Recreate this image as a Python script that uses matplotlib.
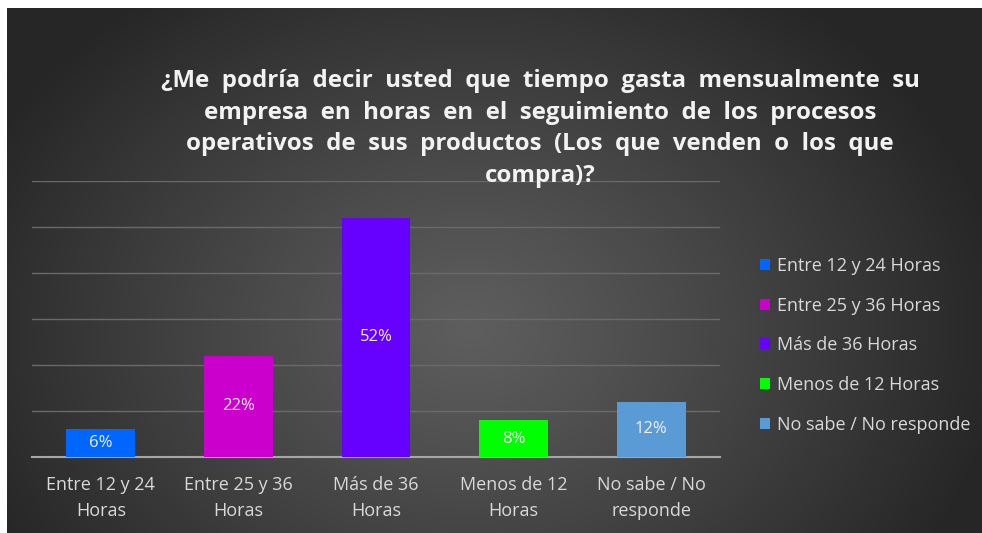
import numpy as np
import matplotlib
matplotlib.use("Agg")
import matplotlib.pyplot as plt

# datos
categorias = ["Entre 12 y 24\nHoras", "Entre 25 y 36\nHoras", "Más de 36\nHoras",
              "Menos de 12\nHoras", "No sabe / No\nresponde"]
leyenda = ["Entre 12 y 24 Horas", "Entre 25 y 36 Horas", "Más de 36 Horas",
           "Menos de 12 Horas", "No sabe / No responde"]
porcentajes = [6, 22, 52, 8, 12]
colores = ["#0066ff", "#cc00cc", "#6600ff", "#00ff00", "#5b9bd5"]

titulo = ("¿Me  podría  decir  usted  que  tiempo  gasta  mensualmente  su\n"
          "empresa  en  horas  en  el  seguimiento  de  los  procesos\n"
          "operativos  de  sus  productos  (Los  que  venden  o  los  que\n"
          "compra)?")

W, H = 982, 533
fig = plt.figure(figsize=(W / 100, H / 100), dpi=100, facecolor="white")

# fondo con degradado radial
bg = fig.add_axes([7 / W, 0, (W - 7) / W, (H - 8) / H], zorder=0)
nx, ny = 400, 220
xx, yy = np.meshgrid(np.linspace(7, W, nx), np.linspace(8, H, ny))
r = np.sqrt(((xx - 470) / 540) ** 2 + ((yy - 330) / 420) ** 2)
r = np.clip(r, 0, 1)
claro, oscuro = 0x5e / 255, 0x26 / 255
val = claro + (oscuro - claro) * r ** 1.1
img = np.dstack([val, val, val])
bg.imshow(img, aspect="auto", extent=[0, 1, 0, 1], origin="upper")
bg.axis("off")

# ejes del grafico
ax = fig.add_axes([32 / W, (H - 457) / H, (720 - 32) / W, (457 - 181) / H], zorder=1)
ax.set_facecolor("none")
x = np.arange(len(categorias))
barras = ax.bar(x, porcentajes, width=0.5, color=colores, zorder=3, label=leyenda)
ax.set_xlim(-0.5, len(categorias) - 0.5)
ax.set_ylim(0, 60)
ax.set_yticks(np.arange(0, 61, 10))
ax.yaxis.grid(True, color="#6a6a6a", linewidth=1.0)
ax.set_axisbelow(True)
ax.tick_params(axis="y", left=False, labelleft=False)
ax.tick_params(axis="x", length=0, pad=14, labelsize=13, labelcolor="#d9d9d9")
ax.set_xticks(x)
ax.set_xticklabels(categorias, fontfamily="Open Sans", linespacing=1.55)
for s in ["top", "right", "left"]:
    ax.spines[s].set_visible(False)
ax.spines["bottom"].set_color("#a6a6a6")
ax.spines["bottom"].set_linewidth(1.5)

for b, v in zip(barras, porcentajes):
    ax.text(b.get_x() + b.get_width() / 2, v / 2, f"{v}%", ha="center", va="center",
            color="#f2f2f2", fontsize=12, fontfamily="Open Sans", zorder=4)

fig.text(540 / W, 1 - 69 / H, titulo, ha="center", va="top", color="#f2f2f2",
         fontsize=17.3, fontweight="bold", fontfamily="Open Sans", linespacing=1.43)

leg = ax.legend(loc="center left", bbox_to_anchor=(1.035, 0.405), frameon=False,
                handlelength=0.55, handleheight=0.55, handletextpad=0.4,
                labelspacing=1.2, prop={"family": "Open Sans", "size": 13})
for t in leg.get_texts():
    t.set_color("#d9d9d9")

fig.savefig("out.png", dpi=100, facecolor="white")
